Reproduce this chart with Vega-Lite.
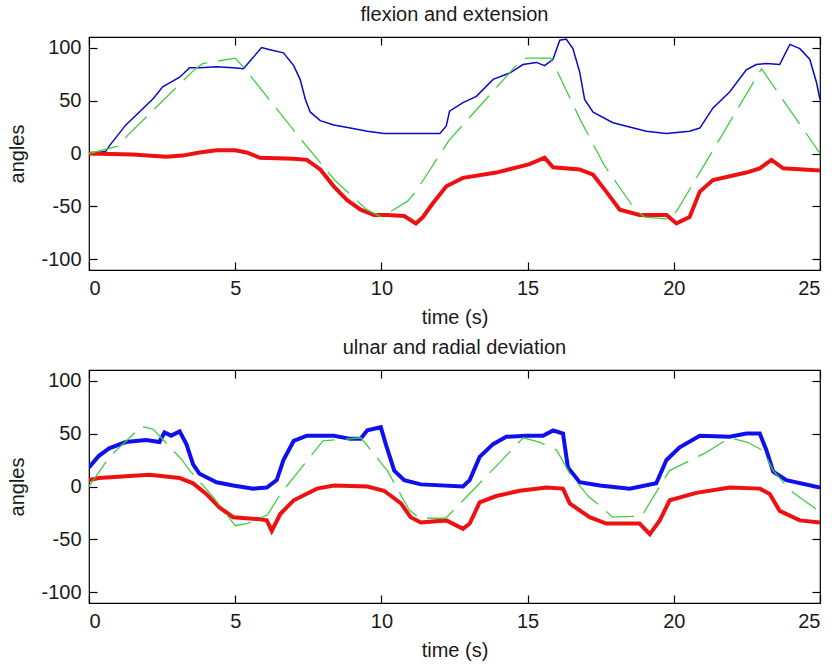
{
  "$schema": "https://vega.github.io/schema/vega-lite/v6.json",
  "background": "white",
  "padding": {"left": 7, "top": 4, "right": 5, "bottom": 5},
  "spacing": 9,
  "datasets": {
    "fe_blue": [
      {"t":0,"v":0},{"t":0.57,"v":2},{"t":0.69,"v":7},{"t":1.26,"v":27},{"t":1.83,"v":42},{"t":2.2,"v":52},{"t":2.52,"v":63},{"t":3.1,"v":72},{"t":3.44,"v":81},{"t":3.78,"v":81},{"t":4.36,"v":82},{"t":4.93,"v":81},{"t":5.28,"v":80},{"t":5.9,"v":100},{"t":6.19,"v":98},{"t":6.65,"v":95},{"t":7.0,"v":83},{"t":7.22,"v":70},{"t":7.4,"v":51},{"t":7.57,"v":39},{"t":7.91,"v":31},{"t":8.37,"v":27},{"t":8.94,"v":24},{"t":9.52,"v":21},{"t":10.09,"v":19},{"t":11.24,"v":19},{"t":12.0,"v":19},{"t":12.22,"v":26},{"t":12.33,"v":40},{"t":12.79,"v":48},{"t":13.25,"v":54},{"t":13.82,"v":70},{"t":14.39,"v":76},{"t":14.84,"v":84},{"t":15.3,"v":86},{"t":15.58,"v":83},{"t":15.87,"v":89},{"t":16.1,"v":107},{"t":16.32,"v":108},{"t":16.55,"v":99},{"t":16.78,"v":77},{"t":16.95,"v":51},{"t":17.24,"v":39},{"t":17.92,"v":29},{"t":19.06,"v":21},{"t":19.75,"v":19},{"t":20.54,"v":21},{"t":20.89,"v":24},{"t":21.34,"v":43},{"t":21.91,"v":58},{"t":22.48,"v":79},{"t":22.82,"v":84},{"t":23.17,"v":85},{"t":23.62,"v":84},{"t":23.97,"v":103},{"t":24.31,"v":99},{"t":24.65,"v":89},{"t":24.88,"v":67},{"t":25,"v":51}
    ],
    "fe_red": [
      {"t":0,"v":0},{"t":1.5,"v":-1},{"t":2.64,"v":-3},{"t":3.2,"v":-2},{"t":3.78,"v":1},{"t":4.36,"v":3},{"t":5.0,"v":3},{"t":5.39,"v":1},{"t":5.85,"v":-4},{"t":7.0,"v":-5},{"t":7.45,"v":-6},{"t":7.91,"v":-15},{"t":8.37,"v":-31},{"t":8.83,"v":-44},{"t":9.29,"v":-53},{"t":9.75,"v":-58},{"t":10.21,"v":-58},{"t":10.78,"v":-59},{"t":11.18,"v":-66},{"t":11.42,"v":-60},{"t":11.76,"v":-47},{"t":12.22,"v":-31},{"t":12.79,"v":-23},{"t":13.93,"v":-18},{"t":15.07,"v":-10},{"t":15.58,"v":-4},{"t":15.87,"v":-13},{"t":16.78,"v":-15},{"t":17.24,"v":-20},{"t":17.69,"v":-36},{"t":18.15,"v":-53},{"t":18.83,"v":-58},{"t":19.75,"v":-58},{"t":20.09,"v":-66},{"t":20.54,"v":-60},{"t":20.89,"v":-36},{"t":21.34,"v":-25},{"t":22.48,"v":-18},{"t":22.94,"v":-14},{"t":23.34,"v":-6},{"t":23.74,"v":-14},{"t":25,"v":-16}
    ],
    "fe_green": [
      {"t":0,"v":0},{"t":1.0,"v":7},{"t":1.35,"v":18},{"t":3.6,"v":79},{"t":3.9,"v":85},{"t":5.0,"v":90},{"t":5.3,"v":81},{"t":7.2,"v":15},{"t":8.4,"v":-25},{"t":9.5,"v":-53},{"t":10.0,"v":-60},{"t":10.9,"v":-45},{"t":11.2,"v":-35},{"t":12.3,"v":12},{"t":14.8,"v":89},{"t":15.0,"v":90},{"t":15.8,"v":90},{"t":16.8,"v":32},{"t":17.62,"v":-11},{"t":18.65,"v":-52},{"t":19.0,"v":-60},{"t":19.9,"v":-62},{"t":20.15,"v":-52},{"t":23.0,"v":80},{"t":25,"v":0}
    ],
    "ur_blue": [
      {"t":0,"v":18},{"t":0.34,"v":29},{"t":0.69,"v":36},{"t":1.26,"v":42},{"t":1.95,"v":44},{"t":2.41,"v":42},{"t":2.58,"v":51},{"t":2.81,"v":48},{"t":3.1,"v":52},{"t":3.33,"v":40},{"t":3.56,"v":21},{"t":3.78,"v":12},{"t":4.36,"v":4},{"t":4.93,"v":1},{"t":5.62,"v":-2},{"t":6.08,"v":-1},{"t":6.42,"v":6},{"t":6.65,"v":25},{"t":7.0,"v":43},{"t":7.45,"v":48},{"t":8.37,"v":48},{"t":8.94,"v":45},{"t":9.29,"v":45},{"t":9.52,"v":53},{"t":9.98,"v":56},{"t":10.15,"v":40},{"t":10.44,"v":15},{"t":10.78,"v":6},{"t":11.35,"v":2},{"t":12.79,"v":0},{"t":13.02,"v":6},{"t":13.36,"v":28},{"t":13.82,"v":40},{"t":14.27,"v":47},{"t":14.96,"v":48},{"t":15.53,"v":48},{"t":15.87,"v":53},{"t":16.21,"v":50},{"t":16.38,"v":18},{"t":16.78,"v":4},{"t":17.47,"v":1},{"t":18.49,"v":-2},{"t":19.4,"v":3},{"t":19.75,"v":25},{"t":20.2,"v":37},{"t":20.89,"v":48},{"t":21.91,"v":47},{"t":22.48,"v":50},{"t":22.94,"v":50},{"t":23.17,"v":34},{"t":23.4,"v":14},{"t":23.85,"v":6},{"t":25,"v":-1}
    ],
    "ur_red": [
      {"t":0,"v":6},{"t":0.34,"v":8},{"t":2.06,"v":11},{"t":3.1,"v":8},{"t":3.56,"v":3},{"t":4.01,"v":-7},{"t":4.47,"v":-20},{"t":4.93,"v":-29},{"t":5.85,"v":-31},{"t":6.08,"v":-32},{"t":6.25,"v":-42},{"t":6.54,"v":-26},{"t":7.0,"v":-13},{"t":7.8,"v":-2},{"t":8.37,"v":1},{"t":9.52,"v":0},{"t":10.09,"v":-4},{"t":10.67,"v":-16},{"t":11.0,"v":-29},{"t":11.35,"v":-34},{"t":12.22,"v":-32},{"t":12.79,"v":-40},{"t":13.02,"v":-35},{"t":13.36,"v":-15},{"t":13.93,"v":-9},{"t":14.73,"v":-4},{"t":15.64,"v":-1},{"t":16.21,"v":-2},{"t":16.44,"v":-16},{"t":17.12,"v":-29},{"t":17.69,"v":-35},{"t":18.83,"v":-35},{"t":19.18,"v":-45},{"t":19.52,"v":-32},{"t":19.86,"v":-13},{"t":20.77,"v":-6},{"t":21.91,"v":-1},{"t":22.94,"v":-2},{"t":23.28,"v":-7},{"t":23.62,"v":-23},{"t":24.31,"v":-32},{"t":25,"v":-34}
    ],
    "ur_green": [
      {"t":0,"v":0},{"t":0.7,"v":28},{"t":1.8,"v":57},{"t":2.2,"v":54},{"t":3.15,"v":26},{"t":3.45,"v":15},{"t":4.25,"v":-10},{"t":5.0,"v":-37},{"t":5.4,"v":-35},{"t":6.1,"v":-27},{"t":6.55,"v":-7},{"t":7.65,"v":31},{"t":8.0,"v":43},{"t":9.3,"v":46},{"t":10.2,"v":15},{"t":10.95,"v":-22},{"t":11.3,"v":-30},{"t":12.2,"v":-30},{"t":13.5,"v":7},{"t":14.85,"v":46},{"t":15.4,"v":42},{"t":16.0,"v":34},{"t":16.45,"v":12},{"t":17.1,"v":-10},{"t":17.6,"v":-21},{"t":17.9,"v":-29},{"t":18.9,"v":-28},{"t":19.85,"v":15},{"t":21.1,"v":32},{"t":21.9,"v":46},{"t":22.5,"v":42},{"t":23.05,"v":34},{"t":23.4,"v":15},{"t":24.0,"v":-4},{"t":25,"v":-24}
    ]
  },
  "vconcat": [
    {
      "width": 731, "height": 233,
      "title": {"text": "flexion and extension"},
      "layer": [
        {
          "encoding": {
            "x": {"field": "t", "type": "quantitative", "scale": {"domain": [0, 25], "nice": false, "zero": false},
                  "axis": {"orient": "bottom", "values": [0,5,10,15,20,25], "title": "time (s)", "labelExpr": "'' + datum.value"}},
            "y": {"field": "v", "type": "quantitative", "scale": {"domain": [-110, 110], "nice": false},
                  "axis": {"orient": "left", "values": [-100,-50,0,50,100], "title": "angles", "labelExpr": "'' + datum.value"}}
          },
          "layer": [
            {"data": {"name": "fe_blue"}, "mark": {"type": "line", "color": "#0a0ac8", "strokeWidth": 1.5, "clip": true}},
            {"data": {"name": "fe_red"}, "mark": {"type": "line", "color": "#ee1111", "strokeWidth": 4, "clip": true}},
            {"data": {"name": "fe_green"}, "mark": {"type": "line", "color": "#44cc44", "strokeWidth": 1.3, "strokeDash": [30, 11], "clip": true}}
          ]
        },
        {
          "data": {"name": "fe_green"},
          "mark": {"type": "line", "opacity": 0},
          "encoding": {
            "x": {"field": "t", "type": "quantitative", "axis": {"orient": "top", "values": [0,5,10,15,20,25], "labels": false, "title": null}},
            "y": {"field": "v", "type": "quantitative", "axis": {"orient": "right", "values": [-100,-50,0,50,100], "labels": false, "title": null}}
          }
        }
      ],
      "resolve": {"axis": {"x": "independent", "y": "independent"}}
    },
    {
      "width": 731, "height": 233,
      "title": {"text": "ulnar and radial deviation"},
      "layer": [
        {
          "encoding": {
            "x": {"field": "t", "type": "quantitative", "scale": {"domain": [0, 25], "nice": false, "zero": false},
                  "axis": {"orient": "bottom", "values": [0,5,10,15,20,25], "title": "time (s)", "labelExpr": "'' + datum.value"}},
            "y": {"field": "v", "type": "quantitative", "scale": {"domain": [-110, 110], "nice": false},
                  "axis": {"orient": "left", "values": [-100,-50,0,50,100], "title": "angles", "labelExpr": "'' + datum.value"}}
          },
          "layer": [
            {"data": {"name": "ur_blue"}, "mark": {"type": "line", "color": "#1010ee", "strokeWidth": 4, "clip": true}},
            {"data": {"name": "ur_red"}, "mark": {"type": "line", "color": "#ee1111", "strokeWidth": 4, "clip": true}},
            {"data": {"name": "ur_green"}, "mark": {"type": "line", "color": "#44cc44", "strokeWidth": 1.3, "strokeDash": [30, 11], "clip": true}}
          ]
        },
        {
          "data": {"name": "ur_green"},
          "mark": {"type": "line", "opacity": 0},
          "encoding": {
            "x": {"field": "t", "type": "quantitative", "axis": {"orient": "top", "values": [0,5,10,15,20,25], "labels": false, "title": null}},
            "y": {"field": "v", "type": "quantitative", "axis": {"orient": "right", "values": [-100,-50,0,50,100], "labels": false, "title": null}}
          }
        }
      ],
      "resolve": {"axis": {"x": "independent", "y": "independent"}}
    }
  ],
  "config": {
    "font": "Liberation Sans",
    "view": {"stroke": "#000000", "strokeWidth": 1.2},
    "axis": {
      "grid": false, "domain": false, "zindex": 1, "offset": -8,
      "ticks": true, "tickColor": "#000000", "tickSize": 8, "tickWidth": 1.2, "tickOpacity": 1,
      "labelFont": "Liberation Sans", "labelFontSize": 20, "labelColor": "#1a1a1a",
      "titleFont": "Liberation Sans", "titleFontSize": 20, "titleFontWeight": "normal", "titleColor": "#1a1a1a"
    },
    "axisX": {"titlePadding": 9, "labelPadding": 8},
    "axisY": {"titlePadding": 13, "labelPadding": 8},
    "title": {"font": "Liberation Sans", "fontSize": 20, "fontWeight": "normal", "color": "#1a1a1a", "offset": 11}
  }
}
